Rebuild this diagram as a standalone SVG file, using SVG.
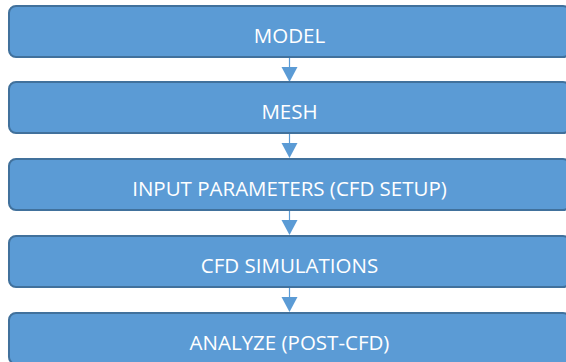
<svg xmlns="http://www.w3.org/2000/svg" width="566" height="362" viewBox="0 0 566 362">
  <style>
    .box { fill: #5B9BD5; stroke: #41719C; stroke-width: 2; }
    .label { fill: #FFFFFF; font-family: "Open Sans", "Liberation Sans", sans-serif; font-size: 20.5px; text-anchor: middle; }
    .link { stroke: #5B9BD5; stroke-width: 1.2; fill: none; }
    .head { fill: #5B9BD5; }
  </style>
  <rect width="566" height="362" fill="#FFFFFF"/>

  <!-- connectors between steps -->
  <g id="connectors">
    <line class="link" x1="289.5" y1="58" x2="289.5" y2="68"/>
    <polygon class="head" points="281.5,67 297.5,67 289.5,82"/>
    <line class="link" x1="289.5" y1="134" x2="289.5" y2="144"/>
    <polygon class="head" points="281.5,143 297.5,143 289.5,158"/>
    <line class="link" x1="289.5" y1="211" x2="289.5" y2="221"/>
    <polygon class="head" points="281.5,220 297.5,220 289.5,235"/>
    <line class="link" x1="289.5" y1="288" x2="289.5" y2="298"/>
    <polygon class="head" points="281.5,297 297.5,297 289.5,312"/>
  </g>

  <g id="model">
    <rect class="box" x="9" y="6" width="561" height="51" rx="7"/>
    <text class="label" x="289.5" y="43">MODEL</text>
  </g>
  <g id="mesh">
    <rect class="box" x="9" y="82" width="561" height="51" rx="7"/>
    <text class="label" x="289.5" y="119">MESH</text>
  </g>
  <g id="input-parameters">
    <rect class="box" x="9" y="159" width="561" height="51" rx="7"/>
    <text class="label" x="289.5" y="196">INPUT PARAMETERS (CFD SETUP)</text>
  </g>
  <g id="cfd-simulations">
    <rect class="box" x="9" y="236" width="561" height="51" rx="7"/>
    <text class="label" x="289.5" y="273">CFD SIMULATIONS</text>
  </g>
  <g id="analyze">
    <rect class="box" x="9" y="313" width="561" height="51" rx="7"/>
    <text class="label" x="289.5" y="350">ANALYZE (POST-CFD)</text>
  </g>
</svg>
